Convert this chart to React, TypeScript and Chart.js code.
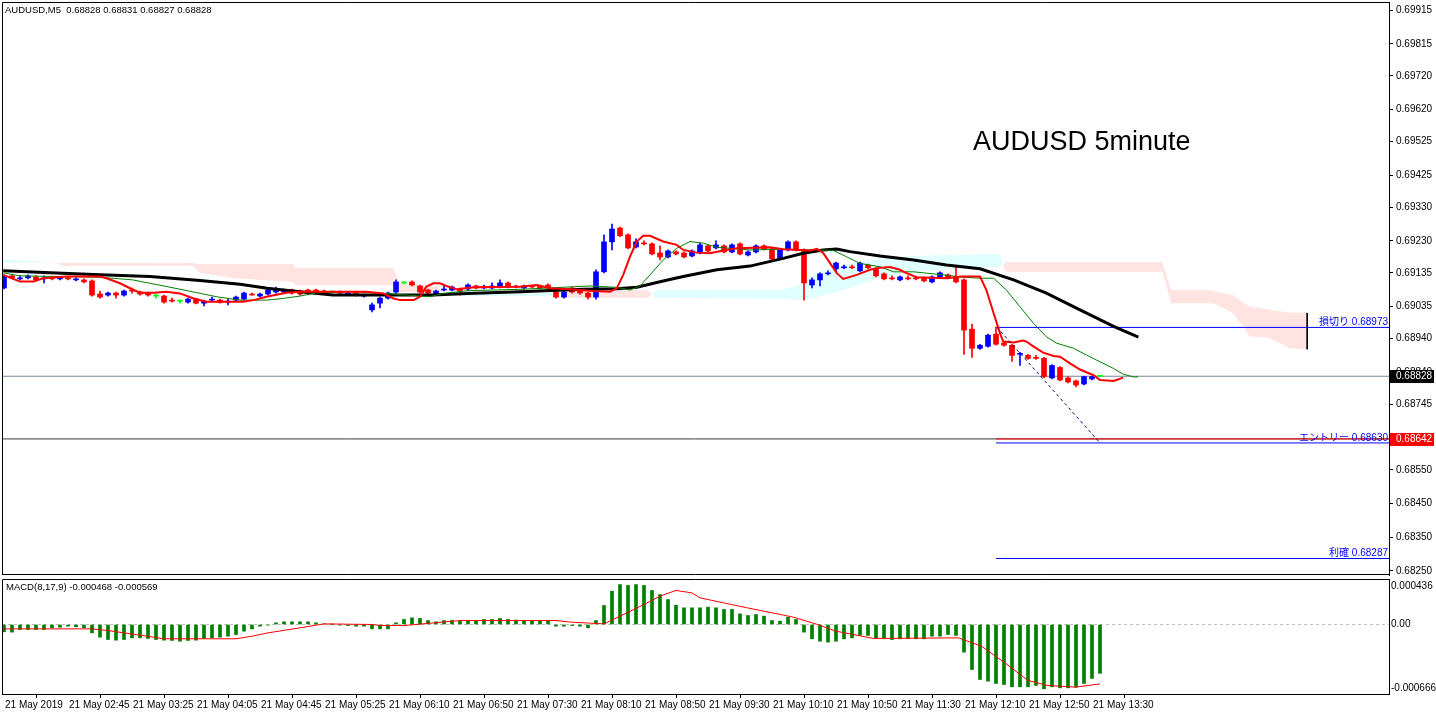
import React, { useEffect, useRef } from 'react';
import { Chart, registerables } from 'chart.js';

Chart.register(...registerables);

const FONT = '"Liberation Sans", Arial, sans-serif';
const JP_FONT = '"Liberation Sans", "Noto Sans CJK JP", sans-serif';

const HEADER = 'AUDUSD,M5  0.68828 0.68831 0.68827 0.68828';
const TITLE = 'AUDUSD 5minute';
const MACD_HEADER = 'MACD(8,17,9) -0.000468 -0.000569';

const X_MIN = -0.25;
const X_MAX = 173.125;
const PRICE_MIN = 0.68238;
const PRICE_MAX = 0.69939;
const MACD_MIN = -0.000666;
const MACD_MAX = 0.000436;

const PRICE_TICKS = [0.69915, 0.69815, 0.6972, 0.6962, 0.69525, 0.69425, 0.6933, 0.6923, 0.69135, 0.69035, 0.6894, 0.6884, 0.68745, 0.6855, 0.6845, 0.6835, 0.6825];
const TIME_TICK_IDX = [0, 8, 16, 24, 32, 40, 48, 56, 64, 72, 80, 88, 96, 104, 112, 120, 128, 136];
const TIME_LABELS = ['21 May 2019', '21 May 02:45', '21 May 03:25', '21 May 04:05', '21 May 04:45', '21 May 05:25', '21 May 06:10', '21 May 06:50', '21 May 07:30', '21 May 08:10', '21 May 08:50', '21 May 09:30', '21 May 10:10', '21 May 10:50', '21 May 11:30', '21 May 12:10', '21 May 12:50', '21 May 13:30'];
const MACD_TICK_POS = [0.000369, 0, -0.000609];
const MACD_TICK_TEXT = ['0.000436', '0.00', '-0.000666'];

const OPEN = [
  0.69090, 0.69126, 0.69117, 0.69120, 0.69123, 0.69117, 0.69120, 0.69117, 0.69120, 0.69114,
  0.69114, 0.69111, 0.69072, 0.69069, 0.69075, 0.69069, 0.69084, 0.69078, 0.69075, 0.69066,
  0.69066, 0.69054, 0.69051, 0.69048, 0.69057, 0.69045, 0.69054, 0.69054, 0.69048, 0.69054,
  0.69057, 0.69072, 0.69066, 0.69072, 0.69078, 0.69078, 0.69084, 0.69081, 0.69084, 0.69084,
  0.69081, 0.69078, 0.69078, 0.69072, 0.69075, 0.69066, 0.69025, 0.69045, 0.69060, 0.69078,
  0.69105, 0.69108, 0.69096, 0.69084, 0.69072, 0.69084, 0.69084, 0.69087, 0.69087, 0.69096,
  0.69090, 0.69090, 0.69093, 0.69105, 0.69096, 0.69090, 0.69096, 0.69096, 0.69099, 0.69078,
  0.69063, 0.69090, 0.69084, 0.69075, 0.69063, 0.69138, 0.69227, 0.69268, 0.69248, 0.69212,
  0.69224, 0.69221, 0.69194, 0.69182, 0.69197, 0.69194, 0.69185, 0.69194, 0.69215, 0.69209,
  0.69215, 0.69197, 0.69221, 0.69188, 0.69197, 0.69215, 0.69206, 0.69179, 0.69203, 0.69227,
  0.69203, 0.69099, 0.69114, 0.69132, 0.69147, 0.69150, 0.69153, 0.69141, 0.69158, 0.69147,
  0.69132, 0.69120, 0.69114, 0.69120, 0.69120, 0.69120, 0.69108, 0.69123, 0.69129, 0.69123,
  0.69114, 0.68968, 0.68911, 0.68917, 0.68953, 0.68927, 0.68920, 0.68893, 0.68890, 0.68884,
  0.68881, 0.68823, 0.68854, 0.68823, 0.68814, 0.68805, 0.68820, 0.68828
];
const HIGH = [
  0.69129, 0.69129, 0.69126, 0.69129, 0.69126, 0.69126, 0.69123, 0.69123, 0.69123, 0.69120,
  0.69117, 0.69114, 0.69081, 0.69078, 0.69078, 0.69084, 0.69090, 0.69081, 0.69078, 0.69072,
  0.69069, 0.69060, 0.69054, 0.69060, 0.69060, 0.69054, 0.69063, 0.69057, 0.69057, 0.69066,
  0.69078, 0.69075, 0.69075, 0.69087, 0.69093, 0.69087, 0.69087, 0.69084, 0.69087, 0.69087,
  0.69084, 0.69081, 0.69081, 0.69078, 0.69078, 0.69072, 0.69045, 0.69063, 0.69078, 0.69114,
  0.69108, 0.69111, 0.69099, 0.69087, 0.69084, 0.69096, 0.69096, 0.69090, 0.69102, 0.69099,
  0.69099, 0.69105, 0.69114, 0.69108, 0.69099, 0.69099, 0.69099, 0.69099, 0.69102, 0.69084,
  0.69081, 0.69093, 0.69087, 0.69078, 0.69144, 0.69248, 0.69280, 0.69271, 0.69251, 0.69236,
  0.69230, 0.69224, 0.69215, 0.69203, 0.69200, 0.69197, 0.69203, 0.69224, 0.69218, 0.69230,
  0.69218, 0.69221, 0.69224, 0.69200, 0.69218, 0.69218, 0.69209, 0.69206, 0.69230, 0.69230,
  0.69206, 0.69120, 0.69135, 0.69141, 0.69167, 0.69158, 0.69158, 0.69167, 0.69161, 0.69150,
  0.69135, 0.69126, 0.69126, 0.69126, 0.69123, 0.69123, 0.69126, 0.69138, 0.69132, 0.69155,
  0.69117, 0.68983, 0.68923, 0.68953, 0.68974, 0.68929, 0.68923, 0.68899, 0.68893, 0.68890,
  0.68884, 0.68863, 0.68857, 0.68827, 0.68817, 0.68828, 0.68828, 0.68831
];
const LOW = [
  0.69087, 0.69117, 0.69114, 0.69117, 0.69111, 0.69105, 0.69114, 0.69114, 0.69114, 0.69111,
  0.69105, 0.69066, 0.69060, 0.69066, 0.69060, 0.69066, 0.69075, 0.69069, 0.69066, 0.69060,
  0.69045, 0.69048, 0.69045, 0.69045, 0.69043, 0.69037, 0.69051, 0.69045, 0.69040, 0.69051,
  0.69054, 0.69069, 0.69063, 0.69069, 0.69075, 0.69075, 0.69072, 0.69069, 0.69072, 0.69072,
  0.69075, 0.69075, 0.69072, 0.69069, 0.69066, 0.69063, 0.69019, 0.69031, 0.69057, 0.69075,
  0.69102, 0.69096, 0.69075, 0.69072, 0.69069, 0.69081, 0.69081, 0.69069, 0.69081, 0.69087,
  0.69087, 0.69087, 0.69090, 0.69090, 0.69090, 0.69087, 0.69090, 0.69087, 0.69087, 0.69060,
  0.69060, 0.69075, 0.69072, 0.69057, 0.69057, 0.69135, 0.69203, 0.69242, 0.69206, 0.69209,
  0.69218, 0.69188, 0.69173, 0.69179, 0.69188, 0.69179, 0.69182, 0.69191, 0.69197, 0.69206,
  0.69194, 0.69194, 0.69188, 0.69185, 0.69194, 0.69203, 0.69173, 0.69176, 0.69200, 0.69200,
  0.69054, 0.69090, 0.69096, 0.69129, 0.69138, 0.69147, 0.69147, 0.69138, 0.69147, 0.69123,
  0.69114, 0.69114, 0.69111, 0.69114, 0.69114, 0.69108, 0.69105, 0.69120, 0.69117, 0.69105,
  0.68893, 0.68884, 0.68908, 0.68914, 0.68920, 0.68917, 0.68872, 0.68860, 0.68878, 0.68878,
  0.68823, 0.68820, 0.68814, 0.68808, 0.68796, 0.68802, 0.68817, 0.68827
];
const CLOSE = [
  0.69123, 0.69120, 0.69120, 0.69126, 0.69114, 0.69120, 0.69117, 0.69120, 0.69117, 0.69117,
  0.69108, 0.69069, 0.69063, 0.69075, 0.69069, 0.69081, 0.69081, 0.69072, 0.69069, 0.69066,
  0.69048, 0.69051, 0.69051, 0.69057, 0.69045, 0.69051, 0.69057, 0.69048, 0.69051, 0.69063,
  0.69075, 0.69069, 0.69072, 0.69084, 0.69084, 0.69081, 0.69075, 0.69072, 0.69075, 0.69075,
  0.69078, 0.69078, 0.69075, 0.69075, 0.69069, 0.69069, 0.69040, 0.69060, 0.69075, 0.69108,
  0.69105, 0.69099, 0.69078, 0.69075, 0.69081, 0.69087, 0.69093, 0.69081, 0.69099, 0.69090,
  0.69093, 0.69096, 0.69105, 0.69093, 0.69093, 0.69096, 0.69093, 0.69090, 0.69090, 0.69063,
  0.69078, 0.69078, 0.69075, 0.69063, 0.69138, 0.69227, 0.69265, 0.69245, 0.69209, 0.69227,
  0.69221, 0.69191, 0.69182, 0.69200, 0.69191, 0.69182, 0.69200, 0.69218, 0.69200, 0.69218,
  0.69197, 0.69218, 0.69191, 0.69197, 0.69215, 0.69206, 0.69176, 0.69203, 0.69227, 0.69203,
  0.69105, 0.69114, 0.69132, 0.69135, 0.69164, 0.69153, 0.69150, 0.69164, 0.69150, 0.69126,
  0.69117, 0.69117, 0.69123, 0.69117, 0.69117, 0.69111, 0.69123, 0.69135, 0.69120, 0.69108,
  0.68965, 0.68911, 0.68920, 0.68950, 0.68923, 0.68920, 0.68890, 0.68896, 0.68881, 0.68881,
  0.68827, 0.68860, 0.68817, 0.68811, 0.68802, 0.68827, 0.68827, 0.68828
];

// moving averages: [bar index, price]
const RED_MA = [
  [-0.1, 0.69129], [2, 0.69109], [3.7, 0.69109], [4.9, 0.69119], [7.8, 0.69124], [12, 0.69124], [12.8, 0.69119],
  [14.5, 0.69104], [16.2, 0.69084], [17, 0.69076], [18.7, 0.69076], [20.3, 0.69079], [22, 0.69074], [23.7, 0.69059],
  [25.3, 0.69049], [29.9, 0.69049], [31.2, 0.69054], [32.8, 0.69064], [35.3, 0.69076], [37, 0.69079], [45.3, 0.69079],
  [47.4, 0.69074], [48.7, 0.69059], [49.5, 0.69054], [51.2, 0.69054], [52, 0.69064], [52.8, 0.69094], [53.7, 0.69104],
  [54.5, 0.69104], [55.3, 0.69096], [56.6, 0.69086], [58.7, 0.69092], [64.5, 0.69094], [66.6, 0.69099], [68.25, 0.69089],
  [70.75, 0.69086], [73.7, 0.69081], [75.75, 0.69079], [76.6, 0.69089], [77.4, 0.69129], [78.25, 0.69183], [79.1, 0.69228],
  [79.9, 0.69245], [80.75, 0.69245], [82.4, 0.69228], [84.1, 0.69218], [84.9, 0.69203], [86.6, 0.69195], [88.25, 0.69193],
  [89.9, 0.69201], [91.6, 0.69208], [95.75, 0.69211], [97.4, 0.69205], [100.75, 0.69201], [101.6, 0.69206], [102.4, 0.69194],
  [103.25, 0.69164], [104.1, 0.69134], [104.9, 0.69117], [106.6, 0.69129], [108.25, 0.69144], [109.1, 0.69149], [110.75, 0.69152],
  [112, 0.69144], [112.8, 0.69134], [114.1, 0.69122], [117.8, 0.69119], [119.7, 0.69124], [122, 0.69124], [122.8, 0.69084],
  [123.7, 0.69015], [124.5, 0.68956], [124.9, 0.68931], [126.2, 0.68928], [127.4, 0.68934], [127.8, 0.68931], [128.7, 0.68916],
  [129.9, 0.68898], [131.2, 0.68888], [132, 0.68886], [133.25, 0.68866], [134.5, 0.68848], [136.2, 0.68831], [137, 0.68817],
  [138.7, 0.68814], [139.9, 0.68824]
];
const GREEN_MA = [
  [-0.1, 0.69135], [2, 0.69126], [12, 0.69122], [16.1, 0.69114], [20.4, 0.69094], [22.9, 0.69082], [26.6, 0.69064],
  [29.5, 0.69054], [32.9, 0.69054], [34.9, 0.69059], [37, 0.69066], [39.1, 0.69076], [43.25, 0.69079], [47.4, 0.69074],
  [51.6, 0.69067], [53.25, 0.69064], [54.9, 0.69074], [57.9, 0.69082], [64.5, 0.69086], [73.25, 0.69096], [76.6, 0.69092],
  [78.25, 0.69084], [79.5, 0.69096], [80.75, 0.69129], [82.4, 0.69173], [84.1, 0.69208], [85.75, 0.69228], [87.4, 0.69223],
  [89.1, 0.69211], [93.25, 0.69203], [97.4, 0.69205], [101.6, 0.69203], [103.7, 0.69201], [105.3, 0.69183], [107, 0.69163],
  [109.5, 0.69153], [111.2, 0.69138], [113.7, 0.69138], [115.75, 0.69133], [117.8, 0.69128], [119.9, 0.69122], [122, 0.69119],
  [123.7, 0.69119], [125.3, 0.69084], [127, 0.69034], [128.7, 0.68985], [130.3, 0.68945], [131.6, 0.68926], [133.7, 0.68911],
  [135.3, 0.68891], [137, 0.68871], [138.7, 0.68851], [139.9, 0.68834], [141.2, 0.68826], [141.75, 0.68826]
];
const BLACK_MA = [
  [-0.1, 0.69141], [5.75, 0.69135], [12, 0.69129], [18.25, 0.69124], [24.5, 0.69112], [29.5, 0.69101], [32.9, 0.69089],
  [37, 0.69079], [41.1, 0.69069], [53.6, 0.69069], [57.9, 0.69074], [64.5, 0.69079], [72.4, 0.69086], [76.6, 0.69088],
  [79.1, 0.69092], [82.4, 0.69111], [84.9, 0.69124], [89.1, 0.69144], [93.25, 0.69155], [97.4, 0.69178], [99.9, 0.69193],
  [102.4, 0.69203], [104.1, 0.69206], [105.75, 0.69198], [109.5, 0.69185], [113.7, 0.69173], [117.8, 0.69158], [122, 0.69147],
  [126.2, 0.69114], [130.3, 0.69075], [134.5, 0.69025], [138.7, 0.68976], [141.8, 0.68944]
];
// Ichimoku cloud: [bar index, span A, span B]
const CLOUD = [
  [-0.25, 0.69176, 0.69164], [6.5, 0.69166, 0.69166], [7.25, 0.69155, 0.69166], [23.6, 0.69155, 0.69164],
  [24.5, 0.69135, 0.69161], [28.6, 0.69120, 0.69161], [36.1, 0.69108, 0.69161], [36.4, 0.69099, 0.69150],
  [48.6, 0.69099, 0.69150], [49.5, 0.69078, 0.69108], [54.5, 0.69078, 0.69093], [55.0, 0.69075, 0.69066],
  [69.5, 0.69075, 0.69066], [70.5, 0.69060, 0.69087], [80.5, 0.69060, 0.69084], [81.5, 0.69084, 0.69060],
  [97.0, 0.69084, 0.69057], [99.5, 0.69099, 0.69054], [101.5, 0.69135, 0.69060], [105.75, 0.69164, 0.69090],
  [109.5, 0.69176, 0.69120], [113.7, 0.69185, 0.69138], [117.8, 0.69188, 0.69144], [124.5, 0.69191, 0.69153],
  [125.2, 0.69138, 0.69167], [144.8, 0.69138, 0.69167], [145.9, 0.69045, 0.69084], [150.75, 0.69045, 0.69084],
  [151.6, 0.69040, 0.69079], [153.6, 0.69016, 0.69069], [155.75, 0.68946, 0.69034], [157.9, 0.68942, 0.69028],
  [158.25, 0.68940, 0.69025], [160.75, 0.68911, 0.69017], [162.9, 0.68908, 0.69017]
];

const MACD_HIST = [
  -0.000070, -0.000073, -0.000048, -0.000048, -0.000048, -0.000048, -0.000032, -0.000026, -0.000016, -0.000022,
  -0.000032, -0.000080, -0.000121, -0.000144, -0.000150, -0.000144, -0.000128, -0.000128, -0.000134, -0.000144,
  -0.000150, -0.000153, -0.000160, -0.000153, -0.000150, -0.000134, -0.000128, -0.000121, -0.000112, -0.000096,
  -0.000064, -0.000042, -0.000016, -0.000006, 0.000016, 0.000026, 0.000026, 0.000026, 0.000026, 0.000016,
  0.000006, 0.000001, -0.000006, -0.000010, -0.000016, -0.000016, -0.000042, -0.000042, -0.000042, 0.000016,
  0.000048, 0.000064, 0.000058, 0.000038, 0.000026, 0.000038, 0.000038, 0.000032, 0.000032, 0.000038,
  0.000048, 0.000048, 0.000058, 0.000048, 0.000042, 0.000038, 0.000038, 0.000038, 0.000032, -0.000016,
  -0.000016, -0.000010, -0.000016, -0.000032, 0.000038, 0.000182, 0.000319, 0.000383, 0.000374, 0.000383,
  0.000374, 0.000326, 0.000287, 0.000239, 0.000185, 0.000160, 0.000160, 0.000160, 0.000166, 0.000160,
  0.000144, 0.000144, 0.000102, 0.000086, 0.000096, 0.000080, 0.000038, 0.000032, 0.000070, 0.000048,
  -0.000073, -0.000137, -0.000160, -0.000169, -0.000160, -0.000137, -0.000128, -0.000102, -0.000105, -0.000128,
  -0.000128, -0.000144, -0.000137, -0.000134, -0.000137, -0.000137, -0.000112, -0.000112, -0.000096, -0.000105,
  -0.000265, -0.000431, -0.000527, -0.000543, -0.000565, -0.000575, -0.000597, -0.000597, -0.000597, -0.000584,
  -0.000616, -0.000597, -0.000607, -0.000607, -0.000600, -0.000565, -0.000517, -0.000468
];
const MACD_SIGNAL = [
  [0, -0.000042], [11, -0.000042], [13, -0.000058], [17, -0.000102], [20, -0.000137], [29, -0.000137], [31, -0.000112],
  [33, -0.000080], [37, -0.000032], [40, 0.000006], [46, 0.000000], [47, -0.000010], [50, -0.000010], [57, 0.000038],
  [69, 0.000038], [71, 0.000022], [75, 0.000006], [77, 0.000080], [80, 0.000192], [82, 0.000272], [84, 0.000326],
  [86, 0.000303], [87, 0.000255], [92.9, 0.000160], [98.7, 0.000070], [101.7, 0.000000], [104, -0.000064],
  [108.7, -0.000134], [119.3, -0.000128], [122.2, -0.000208], [125.1, -0.000367], [128, -0.000536], [130.4, -0.000584],
  [134, -0.000600], [137, -0.000569]
];

const LAST_PRICE = 0.68828;
const ALERT_PRICE = 0.68642;
const LEVEL_NAMES = ['損切り', 'エントリー', '利確'];
const LEVEL_VALUES = [0.68973, 0.6863, 0.68287];
const LEVEL_START = 124;
const TREND_LINE = [[124.1, 0.68974], [137, 0.6863]];
const MARKER_LINE = [[162.9, 0.69016], [162.9, 0.68908]];

const IDX = OPEN.map((_, i) => i);
const candleColor = (i: number) => (CLOSE[i] > OPEN[i] ? '#0000FF' : CLOSE[i] < OPEN[i] ? '#FF0000' : '#00FF00');
const pts = (arr: number[][]) => arr.map((p) => ({ x: p[0], y: p[1] }));
const hline = (v: number, from: number) => [{ x: from, y: v }, { x: X_MAX, y: v }];

const lineBase = { type: 'line', pointRadius: 0, fill: false, tension: 0 };

const noPad = (s: any) => {
  s.paddingTop = 0;
  s.paddingBottom = 0;
  s.paddingLeft = 0;
  s.paddingRight = 0;
};

const mainDecor = {
  id: 'mainDecor',
  afterDraw(chart: any) {
    const { ctx, chartArea: a, scales } = chart;
    const y = scales.y;
    ctx.save();
    ctx.strokeStyle = '#000';
    ctx.lineWidth = 1;
    ctx.beginPath();
    ctx.moveTo(a.left + 0.5, a.bottom);
    ctx.lineTo(a.left + 0.5, a.top + 0.5);
    ctx.lineTo(a.right, a.top + 0.5);
    ctx.moveTo(a.left, a.bottom - 0.5);
    ctx.lineTo(a.right, a.bottom - 0.5);
    ctx.stroke();

    ctx.fillStyle = '#000';
    ctx.font = `9.5px ${FONT}`;
    ctx.textAlign = 'left';
    ctx.textBaseline = 'middle';
    ctx.fillText(HEADER, a.left + 3, a.top + 8);

    ctx.font = `27px ${FONT}`;
    ctx.fillText(TITLE, 973, 143);

    ctx.font = `10px ${JP_FONT}`;
    ctx.fillStyle = '#0000FF';
    ctx.textAlign = 'right';
    ctx.textBaseline = 'bottom';
    LEVEL_VALUES.forEach((v, i) => {
      ctx.fillText(`${LEVEL_NAMES[i]} ${v.toFixed(5)}`, a.right - 1, y.getPixelForValue(v));
    });

    const box = (v: number, bg: string) => {
      const py = Math.round(y.getPixelForValue(v));
      ctx.fillStyle = bg;
      ctx.fillRect(a.right + 1, py - 6, 44, 13);
      ctx.fillStyle = '#FFFFFF';
      ctx.font = `10px ${FONT}`;
      ctx.textAlign = 'left';
      ctx.textBaseline = 'middle';
      ctx.fillText(v.toFixed(5), a.right + 7, py + 0.5);
    };
    box(LAST_PRICE, '#000000');
    box(ALERT_PRICE, '#FF0000');
    ctx.restore();
  },
};

const macdDecor = {
  id: 'macdDecor',
  afterDraw(chart: any) {
    const { ctx, chartArea: a } = chart;
    ctx.save();
    ctx.strokeStyle = '#000';
    ctx.lineWidth = 1;
    ctx.beginPath();
    ctx.moveTo(a.left + 0.5, a.bottom);
    ctx.lineTo(a.left + 0.5, a.top + 0.5);
    ctx.lineTo(a.right, a.top + 0.5);
    ctx.stroke();
    ctx.fillStyle = '#000';
    ctx.font = `9.5px ${FONT}`;
    ctx.textAlign = 'left';
    ctx.textBaseline = 'middle';
    ctx.fillText(MACD_HEADER, a.left + 4, a.top + 8);
    ctx.restore();
  },
};

function mainConfig(): any {
  return {
    type: 'bar',
    data: {
      datasets: [
        {
          ...lineBase,
          data: pts(CLOUD.map((c) => [c[0], c[1]])),
          borderColor: 'rgba(0,0,0,0)',
          borderWidth: 0,
          fill: { target: '+1', above: 'rgb(224,255,255)', below: 'rgb(255,228,225)' },
          order: 30,
        },
        {
          ...lineBase,
          data: pts(CLOUD.map((c) => [c[0], c[2]])),
          borderColor: 'rgba(0,0,0,0)',
          borderWidth: 0,
          order: 29,
        },
        { ...lineBase, data: hline(LAST_PRICE, X_MIN), borderColor: '#778899', borderWidth: 1, order: 21 },
        { ...lineBase, data: hline(ALERT_PRICE, X_MIN), borderColor: '#3A3A3A', borderWidth: 1, order: 21 },
        { ...lineBase, data: hline(ALERT_PRICE, LEVEL_START), borderColor: '#FF0000', borderWidth: 1, order: 20 },
        ...LEVEL_VALUES.map((v) => ({ ...lineBase, data: hline(v, LEVEL_START), borderColor: '#0000FF', borderWidth: 1, order: 19 })),
        { ...lineBase, data: pts(MARKER_LINE), borderColor: '#000000', borderWidth: 1, order: 19 },
        {
          type: 'bar',
          data: IDX.map((i) => ({ x: i, y: [LOW[i], HIGH[i]] })),
          backgroundColor: IDX.map(candleColor),
          barThickness: 1,
          grouped: false,
          order: 10,
        },
        {
          type: 'bar',
          data: IDX.map((i) => ({ x: i, y: [OPEN[i], CLOSE[i]] })),
          backgroundColor: IDX.map(candleColor),
          barThickness: 5,
          minBarLength: 1,
          grouped: false,
          order: 9,
        },
        { ...lineBase, data: pts(BLACK_MA), borderColor: '#000000', borderWidth: 3, order: 3 },
        { ...lineBase, data: pts(GREEN_MA), borderColor: '#008000', borderWidth: 1, order: 2 },
        { ...lineBase, data: pts(RED_MA), borderColor: '#FF0000', borderWidth: 2, order: 1 },
        { ...lineBase, data: pts(TREND_LINE), borderColor: '#000080', borderWidth: 1, borderDash: [3, 3], order: 0 },
      ],
    },
    options: {
      responsive: false,
      animation: false,
      events: [],
      layout: { padding: { left: 2, top: 2, right: 0, bottom: 2 } },
      plugins: {
        legend: { display: false },
        tooltip: { enabled: false },
        filler: { drawTime: 'beforeDatasetsDraw' },
      },
      scales: {
        x: { type: 'linear', min: X_MIN, max: X_MAX, offset: false, display: false },
        y: {
          type: 'linear',
          position: 'right',
          min: PRICE_MIN,
          max: PRICE_MAX,
          afterBuildTicks: (s: any) => {
            s.ticks = PRICE_TICKS.map((v) => ({ value: v }));
          },
          afterFit: (s: any) => {
            s.width = 47;
            noPad(s);
          },
          ticks: {
            autoSkip: false,
            callback: (v: any) => Number(v).toFixed(5),
            font: { family: FONT, size: 10 },
            color: '#000',
            padding: 3,
          },
          grid: { drawOnChartArea: false, color: '#000', tickLength: 4 },
          border: { color: '#000', width: 1 },
        },
      },
    },
    plugins: [mainDecor],
  };
}

function macdConfig(): any {
  return {
    type: 'bar',
    data: {
      datasets: [
        { ...lineBase, data: hline(0, X_MIN), borderColor: '#C0C0C0', borderWidth: 1, borderDash: [3, 3], order: 5 },
        {
          type: 'bar',
          data: IDX.map((i) => ({ x: i, y: MACD_HIST[i] })),
          backgroundColor: '#008000',
          barThickness: 3,
          grouped: false,
          order: 3,
        },
        { ...lineBase, data: pts(MACD_SIGNAL), borderColor: '#FF0000', borderWidth: 1, order: 1 },
      ],
    },
    options: {
      responsive: false,
      animation: false,
      events: [],
      layout: { padding: { left: 2, top: 2, right: 0, bottom: 0 } },
      plugins: { legend: { display: false }, tooltip: { enabled: false } },
      scales: {
        x: {
          type: 'linear',
          min: X_MIN,
          max: X_MAX,
          offset: false,
          position: 'bottom',
          afterBuildTicks: (s: any) => {
            s.ticks = TIME_TICK_IDX.map((v) => ({ value: v }));
          },
          afterFit: (s: any) => {
            s.height = 22;
            noPad(s);
          },
          ticks: {
            autoSkip: false,
            maxRotation: 0,
            minRotation: 0,
            align: 'start',
            labelOffset: 1,
            callback: (_v: any, i: number) => TIME_LABELS[i],
            font: { family: FONT, size: 10 },
            color: '#000',
            padding: 1,
          },
          grid: { drawOnChartArea: false, color: '#000', tickLength: 4 },
          border: { color: '#000', width: 1 },
        },
        y: {
          type: 'linear',
          position: 'right',
          min: MACD_MIN,
          max: MACD_MAX,
          afterBuildTicks: (s: any) => {
            s.ticks = MACD_TICK_POS.map((v) => ({ value: v }));
          },
          afterFit: (s: any) => {
            s.width = 47;
            noPad(s);
          },
          ticks: {
            autoSkip: false,
            callback: (_v: any, i: number) => MACD_TICK_TEXT[i],
            font: { family: FONT, size: 10 },
            color: '#000',
            padding: 2,
          },
          grid: { drawOnChartArea: false, drawTicks: false },
          border: { color: '#000', width: 1 },
        },
      },
    },
    plugins: [macdDecor],
  };
}

export default function App() {
  const mainRef = useRef<HTMLCanvasElement>(null);
  const macdRef = useRef<HTMLCanvasElement>(null);
  useEffect(() => {
    const main = new Chart(mainRef.current as HTMLCanvasElement, mainConfig());
    const macd = new Chart(macdRef.current as HTMLCanvasElement, macdConfig());
    return () => {
      main.destroy();
      macd.destroy();
    };
  }, []);
  return (
    <div style={{ position: 'fixed', left: 0, top: 0, width: 1436, height: 716, background: '#FFFFFF', overflow: 'hidden' }}>
      <canvas ref={mainRef} width={1436} height={577} style={{ position: 'absolute', left: 0, top: 0 }} />
      <canvas ref={macdRef} width={1436} height={139} style={{ position: 'absolute', left: 0, top: 577 }} />
    </div>
  );
}
